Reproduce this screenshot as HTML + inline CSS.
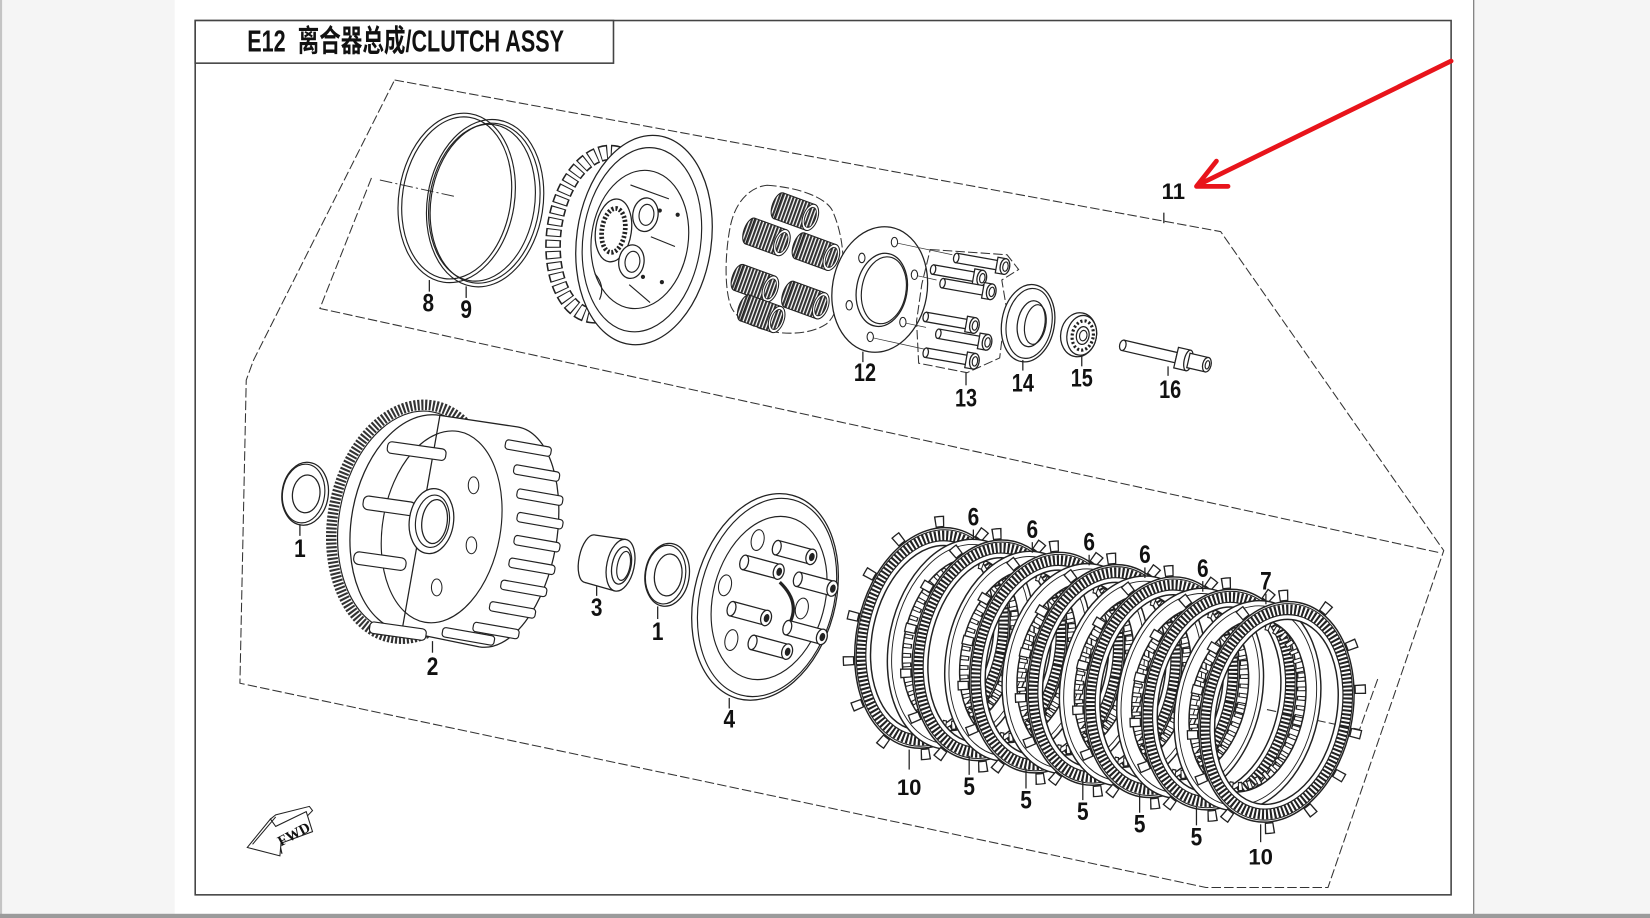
<!DOCTYPE html>
<html><head><meta charset="utf-8"><style>
html,body{margin:0;padding:0;background:#fff;overflow:hidden}
svg{display:block}
.t{font-family:"Liberation Sans","Noto Sans CJK SC",sans-serif;font-weight:bold;fill:#111}
.n{font-family:"Liberation Sans",sans-serif;font-weight:bold;font-size:24px;fill:#111;text-anchor:middle}
.c{font-family:"Liberation Sans",sans-serif;font-weight:bold;font-size:21px;fill:#111;text-anchor:middle}
.d{fill:none;stroke:#333;stroke-width:1;stroke-dasharray:9 3}
.k{stroke:#222;stroke-width:1.2}
.w{fill:#fff;stroke:#222;stroke-width:1.2}
.o{fill:none;stroke:#222;stroke-width:1.1}
</style></head><body>
<svg width="1650" height="918" viewBox="0 0 1568 872" preserveAspectRatio="none" xmlns="http://www.w3.org/2000/svg">
<defs>
<pattern id="coil" width="3.2" height="10" patternUnits="userSpaceOnUse">
<rect width="3.2" height="10" fill="#fff"/><rect width="2" height="10" fill="#333"/>
</pattern>
<g id="spring">
<ellipse cx="-16" cy="0" rx="6" ry="13" fill="url(#coil)" stroke="#222"/>
<rect x="-16" y="-13" width="32" height="26" fill="url(#coil)" stroke="#222"/>
<ellipse cx="16" cy="0" rx="7" ry="13" fill="#fff" stroke="#222"/>
<ellipse cx="16" cy="0" rx="5" ry="10" fill="url(#coil)" stroke="#222" stroke-width="0.8"/>
</g>
<g id="bolt">
<rect x="-46" y="-4.5" width="40" height="9" class="w"/>
<ellipse cx="-46" cy="0" rx="2.5" ry="4.5" class="w"/>
<rect x="-7" y="-7.5" width="8" height="15" class="w"/>
<ellipse cx="1" cy="0" rx="4.5" ry="7.5" class="w"/>
<ellipse cx="1.5" cy="0" rx="2.5" ry="4.5" class="o"/>
</g>
<g id="boss">
<rect x="-34" y="-7" width="34" height="14" class="w"/>
<ellipse cx="-34" cy="0" rx="4" ry="7" class="w"/>
<ellipse cx="0" cy="0" rx="5" ry="7.5" class="w"/>
<ellipse cx="0.5" cy="0" rx="2.6" ry="4" fill="#222"/>
</g>
<g id="fd">
<ellipse rx="78" ry="112" fill="none" stroke="#222" stroke-width="11" stroke-dasharray="9 34"/>
<ellipse rx="78" ry="112" fill="none" stroke="#fff" stroke-width="8.5" stroke-dasharray="6.5 36.5" stroke-dashoffset="-1.25"/>
<path d="M-72,0 A72,106 0 1 0 72,0 A72,106 0 1 0 -72,0 Z M-57,0 A57,89 0 1 0 57,0 A57,89 0 1 0 -57,0 Z" fill="#fff" fill-rule="evenodd" stroke="#222" stroke-width="1.4"/>
<ellipse rx="66" ry="98.5" fill="none" stroke="#222" stroke-width="9.5" stroke-dasharray="2 1.8"/>
<ellipse rx="61.5" ry="93.5" fill="none" stroke="#222" stroke-width="1.1"/>
<ellipse rx="70.5" ry="104" fill="none" stroke="#222" stroke-width="1"/>
</g>
<g id="sd">
<ellipse rx="50" ry="78" fill="none" stroke="#222" stroke-width="9" stroke-dasharray="4.5 4.5"/>
<ellipse rx="50" ry="78" fill="none" stroke="#fff" stroke-width="6.5" stroke-dasharray="2.5 6.5" stroke-dashoffset="-1"/>
<path d="M-68,0 A68,101 0 1 0 68,0 A68,101 0 1 0 -68,0 Z M-54,0 A54,83 0 1 0 54,0 A54,83 0 1 0 -54,0 Z" fill="#fff" fill-rule="evenodd" stroke="#222" stroke-width="1.4"/>
<ellipse rx="64" ry="96" fill="none" stroke="#222" stroke-width="0.9"/>
</g>
</defs>

<!-- page background -->
<rect width="1568" height="872" fill="#fff"/>
<rect x="0" y="0" width="166" height="872" fill="#f5f5f5"/>
<rect x="0" y="0" width="2" height="872" fill="#c4c4c4"/>
<rect x="1400" y="0" width="168" height="872" fill="#f5f5f5"/>
<line x1="1400.5" y1="0" x2="1400.5" y2="872" stroke="#666" stroke-width="1"/>
<rect x="0" y="868" width="1568" height="4" fill="#9b9b9b"/>

<!-- frame -->
<rect x="185.5" y="19.5" width="1193.5" height="830.5" fill="#fff" stroke="#444" stroke-width="1.5"/>
<rect x="185.5" y="19.5" width="397.5" height="40.5" fill="#fff" stroke="#444" stroke-width="1.5"/>
<text x="235" y="49" class="t" font-size="29" textLength="301" lengthAdjust="spacingAndGlyphs">E12&#160;&#160;离合器总成/CLUTCH ASSY</text>

<!-- dashed group outlines -->
<path class="d" d="M375,76 L1160,220 L1372,523 L1262,843 L1146,843 L228,649 L234,361 L241,342 Z"/>
<path class="d" d="M353,169 L304,293 L1368,525"/>
<path class="d" d="M1204,674 L1292,693 L1310,643"/>
<line x1="361" y1="171" x2="434" y2="187" stroke="#333" stroke-width="0.9" stroke-dasharray="12 3 2 3"/>

<!-- rings 8 & 9 -->
<g transform="translate(434,188) rotate(9)">
<ellipse rx="55" ry="81" class="o" stroke-width="1.6"/>
<ellipse rx="51.5" ry="77.5" class="o"/>
</g>
<g transform="translate(461,193) rotate(9)">
<ellipse rx="55" ry="80" class="o" stroke-width="1.6"/>
<ellipse rx="51.5" ry="76.5" class="o"/>
<ellipse cx="-3" rx="50" ry="75" class="o" stroke-width="0.8"/>
</g>
<line x1="408" y1="266" x2="408" y2="277" class="k"/>
<line x1="443" y1="272" x2="443" y2="283" class="k"/>
<text x="407" y="296" class="n" textLength="11" lengthAdjust="spacingAndGlyphs">8</text>
<text x="443" y="302" class="n" textLength="11" lengthAdjust="spacingAndGlyphs">9</text>

<!-- inner hub -->
<g transform="translate(612,228) rotate(8)">
<ellipse cx="-40" cy="0" rx="46" ry="78" fill="none" stroke="#222" stroke-width="15" stroke-dasharray="7.5 3"/>
<ellipse cx="-40" cy="0" rx="46" ry="78" fill="none" stroke="#fff" stroke-width="12" stroke-dasharray="5.5 5" stroke-dashoffset="-1"/>
<path d="M-40,-78 L0,-100 L0,100 L-40,78 Z" fill="#fff"/>
<ellipse rx="64" ry="100" class="w" stroke-width="1.5"/>
<ellipse cx="-2" rx="56" ry="88" class="o"/>
<ellipse cx="-4" rx="46" ry="66" class="o" stroke-width="1.2"/>
<ellipse cx="-30" cy="-5" rx="17" ry="30" class="w"/>
<ellipse cx="-30" cy="-5" rx="11" ry="21" fill="none" stroke="#222" stroke-width="4.5" stroke-dasharray="2 1.8"/>
<ellipse cx="-2" cy="-24" rx="12" ry="16" class="w" stroke-width="1.5"/>
<ellipse cx="-1" cy="-24" rx="7" ry="10" class="o"/>
<ellipse cx="-9" cy="22" rx="12" ry="16" class="w" stroke-width="1.5"/>
<ellipse cx="-8" cy="22" rx="7" ry="10" class="o"/>
<path d="M-42,38 Q-30,48 -34,62" class="o" stroke-width="2"/>
<path d="M-20,-50 L18,-42 M6,-4 L30,2 M-8,44 L14,58" class="o"/>
</g>
<circle cx="627" cy="200" r="2" fill="#222"/><circle cx="644" cy="204" r="2" fill="#222"/>
<circle cx="611" cy="263" r="2" fill="#222"/><circle cx="629" cy="268" r="2" fill="#222"/>

<!-- springs -->
<path class="d" d="M729,176 C760,178 785,188 791,200 C800,220 803,245 800,262 C798,285 795,300 785,308 C770,318 745,318 730,314 C712,310 700,302 695,292 C688,275 689,240 694,215 C698,195 710,178 729,176 Z"/>
<use href="#spring" transform="translate(755,201) rotate(20)"/>
<use href="#spring" transform="translate(728,225) rotate(20)"/>
<use href="#spring" transform="translate(775,239) rotate(20)"/>
<use href="#spring" transform="translate(717,269) rotate(20)"/>
<use href="#spring" transform="translate(765,285) rotate(20)"/>
<use href="#spring" transform="translate(723,298) rotate(20)"/>

<!-- plate 12 -->
<g transform="translate(836,275) rotate(10)">
<ellipse rx="45" ry="60" class="w" stroke-width="1.4"/>
<ellipse cx="2" rx="24" ry="35" class="w" stroke-width="1.4"/>
<ellipse cx="4" rx="21" ry="32" class="o"/>
</g>
<g fill="#fff" stroke="#222" stroke-width="1">
<ellipse cx="850" cy="230" rx="3" ry="4.5"/><ellipse cx="819" cy="245" rx="3" ry="4.5"/>
<ellipse cx="869" cy="261" rx="3" ry="4.5"/><ellipse cx="807" cy="290" rx="3" ry="4.5"/>
<ellipse cx="858" cy="306" rx="3" ry="4.5"/><ellipse cx="827" cy="320" rx="3" ry="4.5"/>
</g>
<path d="M853,231 L905,242 M872,262 L890,266 M861,307 L880,311 M830,321 L880,332" stroke="#333" stroke-width="0.7" fill="none"/>
<line x1="820" y1="334" x2="820" y2="344" class="k"/>
<text x="822" y="362" class="n" textLength="21" lengthAdjust="spacingAndGlyphs">12</text>

<!-- bolts 13 -->
<path class="d" d="M884,237 L957,242 L968,256 L952,266 L956,290 L950,340 L919,354 L873,345 L871,305 L876,270 Z"/>
<use href="#bolt" transform="translate(954,253) rotate(10)"/>
<use href="#bolt" transform="translate(932,264) rotate(10)"/>
<use href="#bolt" transform="translate(941,277) rotate(10)"/>
<use href="#bolt" transform="translate(925,309) rotate(10)"/>
<use href="#bolt" transform="translate(937,325) rotate(10)"/>
<use href="#bolt" transform="translate(925,343) rotate(10)"/>
<line x1="918" y1="354" x2="918" y2="366" class="k"/>
<text x="918" y="386" class="n" textLength="21" lengthAdjust="spacingAndGlyphs">13</text>

<!-- 14 -->
<g transform="translate(977,307) rotate(10)">
<ellipse rx="25" ry="37" class="w" stroke-width="1.5"/>
<ellipse cx="1" rx="21.5" ry="33.5" class="o"/>
<ellipse cx="3" rx="13" ry="22" class="w" stroke-width="1.4"/>
<ellipse cx="7" rx="10" ry="19" class="o"/>
</g>
<line x1="972" y1="342" x2="972" y2="352" class="k"/>
<text x="972" y="372" class="n" textLength="21" lengthAdjust="spacingAndGlyphs">14</text>

<!-- 15 -->
<g transform="translate(1025,318) rotate(10)">
<ellipse rx="17" ry="21" class="w" stroke-width="1.4"/>
<ellipse cx="3" rx="14" ry="19" class="w"/>
<ellipse cx="4" rx="10" ry="14" fill="none" stroke="#222" stroke-width="3" stroke-dasharray="2 2"/>
<ellipse cx="4" rx="6" ry="8.5" class="w"/>
<ellipse cx="4.5" rx="3.5" ry="5" class="o"/>
</g>
<line x1="1028" y1="338" x2="1028" y2="348" class="k"/>
<text x="1028" y="367" class="n" textLength="21" lengthAdjust="spacingAndGlyphs">15</text>

<!-- 16 -->
<g transform="translate(1067,328) rotate(13)">
<rect x="0" y="-5" width="52" height="10" class="w"/>
<ellipse cx="0" cy="0" rx="3" ry="5" class="w"/>
<rect x="52" y="-10" width="12" height="20" class="w"/>
<ellipse cx="64" cy="0" rx="4" ry="10" class="w"/>
<rect x="64" y="-7" width="18" height="14" class="w"/>
<ellipse cx="82" cy="0" rx="4" ry="7" class="w"/>
<ellipse cx="82.5" cy="0" rx="2" ry="4" class="o"/>
</g>
<line x1="1110" y1="348" x2="1110" y2="357" class="k"/>
<text x="1112" y="378" class="n" textLength="21" lengthAdjust="spacingAndGlyphs">16</text>

<!-- 11 + red arrow -->
<line x1="1106" y1="202" x2="1106" y2="212" class="k"/>
<text x="1115" y="189" class="c">11</text>
<g stroke="#e8141b" stroke-width="4.5" stroke-linecap="round" stroke-linejoin="round" fill="none">
<line x1="1379" y1="58" x2="1138" y2="176"/>
<polyline points="1156,153 1137,177 1167,177"/>
</g>

<!-- washer 1 (left) -->
<g transform="translate(290,469) rotate(8)">
<ellipse rx="22" ry="30" class="w" stroke-width="1.4"/>
<ellipse cx="-1.5" rx="20" ry="28" class="o" stroke-width="0.7"/>
<ellipse cx="1" rx="13" ry="18" class="w"/>
</g>
<line x1="285" y1="498" x2="285" y2="509" class="k"/>
<text x="285" y="529" class="n" textLength="11" lengthAdjust="spacingAndGlyphs">1</text>

<!-- clutch basket 2 -->
<g transform="translate(400,497) rotate(10)">
<ellipse cx="-8" rx="76" ry="112" fill="#fff" stroke="#333" stroke-width="10" stroke-dasharray="2 1.6"/>
<ellipse cx="-8" rx="70" ry="106" class="o"/>
<ellipse cx="0" rx="66" ry="104" class="w"/>
<path d="M0,-104 L75,-106 A55,106 0 0 1 75,106 L0,104 Z" class="w"/>
<ellipse cx="20" rx="56" ry="92" class="o"/>
<g fill="#fff" stroke="#222" stroke-width="1.1">
<rect x="66" y="-92.5" width="44" height="9" rx="3"/>
<rect x="78" y="-70.5" width="44" height="9" rx="3"/>
<rect x="85" y="-48.5" width="44" height="9" rx="3"/>
<rect x="89" y="-26.5" width="44" height="9" rx="3"/>
<rect x="90" y="-4.5" width="44" height="9" rx="3"/>
<rect x="89" y="17.5" width="44" height="9" rx="3"/>
<rect x="85" y="39.5" width="44" height="9" rx="3"/>
<rect x="78" y="61.5" width="44" height="9" rx="3"/>
<rect x="66" y="83.5" width="44" height="9" rx="3"/>
</g>
</g>
<g fill="#fff" stroke="#222" stroke-width="1.1">
<rect x="368" y="423" width="56" height="11" rx="4" transform="rotate(8 396 428)"/>
<rect x="345" y="474" width="50" height="13" rx="5" transform="rotate(8 370 480)"/>
<rect x="336" y="527" width="50" height="12" rx="5" transform="rotate(8 361 533)"/>
<rect x="351" y="594" width="54" height="11" rx="4" transform="rotate(8 378 600)"/>
<rect x="420" y="600" width="50" height="9" rx="3" transform="rotate(10 445 605)"/>
</g>
<g transform="translate(410,495) rotate(8)">
<ellipse rx="21" ry="31" class="w" stroke-width="1.5"/>
<ellipse cx="1" rx="16" ry="25" class="o"/>
<ellipse cx="3" rx="12" ry="21" class="w"/>
</g>
<g fill="#fff" stroke="#222" stroke-width="1">
<ellipse cx="450" cy="461" rx="5" ry="8"/><ellipse cx="448" cy="518" rx="5" ry="8"/><ellipse cx="415" cy="558" rx="5" ry="8"/>
</g>
<line x1="411" y1="609" x2="411" y2="620" class="k"/>
<text x="411" y="641" class="n" textLength="11" lengthAdjust="spacingAndGlyphs">2</text>

<!-- bush 3 -->
<g transform="translate(576,534) rotate(12)">
<ellipse cx="-16" rx="10" ry="23" class="w"/>
<rect x="-16" y="-23" width="30" height="46" fill="#fff"/>
<line x1="-16" y1="-23" x2="14" y2="-25" class="k" stroke-width="1"/>
<line x1="-16" y1="23" x2="14" y2="25" class="k" stroke-width="1"/>
<ellipse cx="14" rx="13" ry="25" class="w" stroke-width="1.4"/>
<ellipse cx="15" rx="9" ry="18" class="w"/>
<ellipse cx="17" rx="6" ry="14" class="o" stroke-width="0.8"/>
</g>
<line x1="567" y1="557" x2="567" y2="566" class="k"/>
<text x="567" y="585" class="n" textLength="11" lengthAdjust="spacingAndGlyphs">3</text>

<!-- washer 1 (right) -->
<g transform="translate(634,546) rotate(8)">
<ellipse rx="21" ry="30" class="w" stroke-width="1.4"/>
<ellipse cx="-1.5" rx="19" ry="28" class="o" stroke-width="0.7"/>
<ellipse cx="1" rx="13" ry="20" class="w"/>
</g>
<line x1="625" y1="576" x2="625" y2="588" class="k"/>
<text x="625" y="608" class="n" textLength="11" lengthAdjust="spacingAndGlyphs">1</text>

<!-- pressure plate 4 -->
<g transform="translate(727,567) rotate(15)">
<ellipse rx="67" ry="100" class="w" stroke-width="1.5"/>
<ellipse cx="2" rx="63.5" ry="96" class="o" stroke-width="0.8"/>
<ellipse cx="4" rx="53" ry="79" class="o"/>
</g>
<g fill="#fff" stroke="#222" stroke-width="1">
<ellipse cx="720" cy="513" rx="6" ry="10" transform="rotate(12 720 513)"/>
<ellipse cx="689" cy="556" rx="6" ry="10" transform="rotate(12 689 556)"/>
<ellipse cx="762" cy="578" rx="6" ry="10" transform="rotate(12 762 578)"/>
<ellipse cx="695" cy="608" rx="6" ry="10" transform="rotate(12 695 608)"/>
</g>
<path d="M741,553 Q764,575 746,599" fill="none" stroke="#222" stroke-width="3"/>
<use href="#boss" transform="translate(771,529) rotate(15)"/>
<use href="#boss" transform="translate(740,543) rotate(15)"/>
<use href="#boss" transform="translate(791,559) rotate(15)"/>
<use href="#boss" transform="translate(728,587) rotate(15)"/>
<use href="#boss" transform="translate(781,605) rotate(15)"/>
<use href="#boss" transform="translate(748,619) rotate(15)"/>
<line x1="693" y1="663" x2="693" y2="673" class="k"/>
<text x="693" y="691" class="n" textLength="11" lengthAdjust="spacingAndGlyphs">4</text>

<!-- clutch plates -->
<use href="#fd" transform="translate(886,606) rotate(12)"/>
<use href="#sd" transform="translate(913,612) rotate(12)"/>
<use href="#fd" transform="translate(940.5,617.7) rotate(12)"/>
<use href="#sd" transform="translate(967.5,623.5) rotate(12)"/>
<use href="#fd" transform="translate(995,629.4) rotate(12)"/>
<use href="#sd" transform="translate(1022,635.2) rotate(12)"/>
<use href="#fd" transform="translate(1049.5,641.1) rotate(12)"/>
<use href="#sd" transform="translate(1076.5,646.9) rotate(12)"/>
<use href="#fd" transform="translate(1104,652.8) rotate(12)"/>
<use href="#sd" transform="translate(1131,658.6) rotate(12)"/>
<use href="#fd" transform="translate(1158.5,664.5) rotate(12)"/>
<use href="#sd" transform="translate(1185.5,670.3) rotate(12)"/>
<use href="#fd" transform="translate(1213,676.2) rotate(12)"/>

<!-- plate labels -->
<g class="k">
<line x1="925" y1="503" x2="925" y2="513"/>
<line x1="981" y1="515" x2="981" y2="525"/>
<line x1="1035" y1="527" x2="1035" y2="537"/>
<line x1="1088" y1="539" x2="1088" y2="549"/>
<line x1="1143" y1="552" x2="1143" y2="562"/>
<line x1="1203" y1="564" x2="1203" y2="574"/>
<line x1="864" y1="712" x2="864" y2="731"/>
<line x1="921" y1="718" x2="921" y2="736"/>
<line x1="975" y1="730" x2="975" y2="749"/>
<line x1="1029" y1="742" x2="1029" y2="760"/>
<line x1="1083" y1="754" x2="1083" y2="772"/>
<line x1="1137" y1="766" x2="1137" y2="784"/>
<line x1="1198" y1="783" x2="1198" y2="800"/>
</g>
<text x="925" y="499" class="n" textLength="11" lengthAdjust="spacingAndGlyphs">6</text>
<text x="981" y="511" class="n" textLength="11" lengthAdjust="spacingAndGlyphs">6</text>
<text x="1035" y="523" class="n" textLength="11" lengthAdjust="spacingAndGlyphs">6</text>
<text x="1088" y="535" class="n" textLength="11" lengthAdjust="spacingAndGlyphs">6</text>
<text x="1143" y="548" class="n" textLength="11" lengthAdjust="spacingAndGlyphs">6</text>
<text x="1203" y="560" class="n" textLength="11" lengthAdjust="spacingAndGlyphs">7</text>
<text x="864" y="755" class="c">10</text>
<text x="921" y="755" class="n" textLength="11" lengthAdjust="spacingAndGlyphs">5</text>
<text x="975" y="768" class="n" textLength="11" lengthAdjust="spacingAndGlyphs">5</text>
<text x="1029" y="779" class="n" textLength="11" lengthAdjust="spacingAndGlyphs">5</text>
<text x="1083" y="791" class="n" textLength="11" lengthAdjust="spacingAndGlyphs">5</text>
<text x="1137" y="803" class="n" textLength="11" lengthAdjust="spacingAndGlyphs">5</text>
<text x="1198" y="821" class="c">10</text>

<!-- FWD arrow -->
<g fill="#fff" stroke="#222" stroke-width="1">
<polygon points="257,778 262,774 294,766 297,770 266,802 268,811"/>
<polygon points="235,805 257,778 262,785 291,771 297,790 267,801 266,813"/>
<line x1="240" y1="802" x2="262" y2="776"/>
</g>
<text x="279" y="797" font-family="Liberation Serif, serif" font-weight="bold" font-size="14" fill="#111" text-anchor="middle" transform="rotate(-28 279 792)">FWD</text>
</svg>
</body></html>
